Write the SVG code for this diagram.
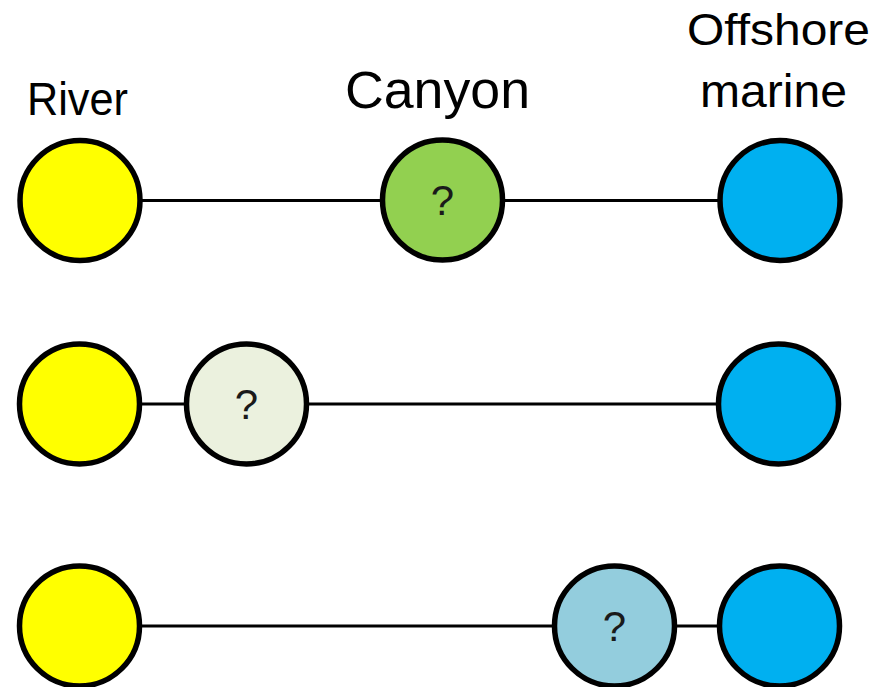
<svg xmlns="http://www.w3.org/2000/svg" width="889" height="687" viewBox="0 0 889 687">
<style>
.node{stroke:#000;stroke-width:5.5}
.conn{stroke:#000;stroke-width:3;fill:none}
.lbl{font-family:"Liberation Sans",Arial,sans-serif;fill:#000}
.q{font-family:"Liberation Sans",Arial,sans-serif;font-size:42px;fill:#1a1a1a;text-anchor:middle}
</style>
<rect width="889" height="687" fill="#fff"/>
<g id="labels">
<text class="lbl" x="27" y="115" font-size="46" textLength="101" lengthAdjust="spacingAndGlyphs">River</text>
<text class="lbl" x="345" y="108" font-size="51" textLength="185" lengthAdjust="spacingAndGlyphs">Canyon</text>
<text class="lbl" x="687" y="45" font-size="45" textLength="183" lengthAdjust="spacingAndGlyphs">Offshore</text>
<text class="lbl" x="700" y="107" font-size="46" textLength="147" lengthAdjust="spacingAndGlyphs">marine</text>
</g>
<g id="connectors">
<line class="conn" x1="80" y1="200.5" x2="780" y2="200.5"/>
<line class="conn" x1="80" y1="404" x2="778" y2="404"/>
<line class="conn" x1="80" y1="626" x2="780" y2="626"/>
</g>
<g id="row1-river"><circle class="node" cx="80" cy="200.5" r="60" fill="#FFFF00"/></g>
<g id="row1-canyon"><circle class="node" cx="442.5" cy="200" r="60" fill="#92D050"/><text class="q" x="442.5" y="215">?</text></g>
<g id="row1-offshore"><circle class="node" cx="780" cy="200.5" r="60" fill="#00B0F0"/></g>
<g id="row2-river"><circle class="node" cx="79.5" cy="404" r="60" fill="#FFFF00"/></g>
<g id="row2-mid"><circle class="node" cx="246.5" cy="404" r="60" fill="#EBF1DE"/><text class="q" x="246.5" y="419">?</text></g>
<g id="row2-offshore"><circle class="node" cx="778.5" cy="404" r="60" fill="#00B0F0"/></g>
<g id="row3-river"><circle class="node" cx="79.5" cy="626" r="60" fill="#FFFF00"/></g>
<g id="row3-mid"><circle class="node" cx="614.5" cy="626" r="60" fill="#93CDDD"/><text class="q" x="614.5" y="641">?</text></g>
<g id="row3-offshore"><circle class="node" cx="779.5" cy="626" r="60" fill="#00B0F0"/></g>
</svg>
